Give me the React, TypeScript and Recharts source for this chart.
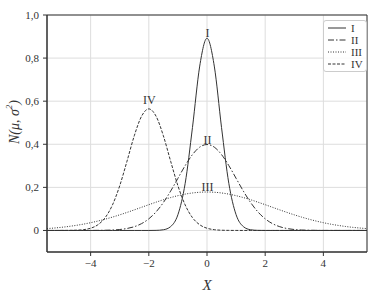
import React from "react";
import {
  LineChart,
  Line,
  XAxis,
  YAxis,
  CartesianGrid,
  ReferenceArea,
  ReferenceDot,
  Legend,
  Label,
} from "recharts";

// x grid, step 0.25 from -5.5 to 5.5
const xs: number[] = [
  -5.5, -5.25, -5, -4.75, -4.5, -4.25, -4, -3.75, -3.5, -3.25, -3, -2.75, -2.5,
  -2.25, -2, -1.75, -1.5, -1.25, -1, -0.75, -0.5, -0.25, 0, 0.25, 0.5, 0.75, 1,
  1.25, 1.5, 1.75, 2, 2.25, 2.5, 2.75, 3, 3.25, 3.5, 3.75, 4, 4.25, 4.5, 4.75,
  5, 5.25, 5.5,
];

const seriesI: number[] = [
  0, 0, 0, 0, 0, 0, 0, 0, 0, 0, 0, 0, 0, 0, 0, 0.0004, 0.0032, 0.0179, 0.0732,
  0.2187, 0.4775, 0.763, 0.8921, 0.763, 0.4775, 0.2187, 0.0732, 0.0179, 0.0032,
  0.0004, 0, 0, 0, 0, 0, 0, 0, 0, 0, 0, 0, 0, 0, 0, 0,
];

const seriesII: number[] = [
  0, 0, 0, 0, 0, 0, 0.0001, 0.0004, 0.0009, 0.002, 0.0044, 0.0091, 0.0175,
  0.0317, 0.054, 0.0863, 0.1295, 0.1826, 0.242, 0.3011, 0.3521, 0.3867, 0.3989,
  0.3867, 0.3521, 0.3011, 0.242, 0.1826, 0.1295, 0.0863, 0.054, 0.0317, 0.0175,
  0.0091, 0.0044, 0.002, 0.0009, 0.0004, 0.0001, 0, 0, 0, 0, 0, 0,
];

const seriesIII: number[] = [
  0.0087, 0.0113, 0.0146, 0.0187, 0.0236, 0.0293, 0.036, 0.0437, 0.0524, 0.062,
  0.0725, 0.0837, 0.0955, 0.1075, 0.1196, 0.1313, 0.1425, 0.1526, 0.1614,
  0.1686, 0.174, 0.1773, 0.1784, 0.1773, 0.174, 0.1686, 0.1614, 0.1526, 0.1425,
  0.1313, 0.1196, 0.1075, 0.0955, 0.0837, 0.0725, 0.062, 0.0524, 0.0437, 0.036,
  0.0293, 0.0236, 0.0187, 0.0146, 0.0113, 0.0087,
];

const seriesIV: number[] = [
  0, 0, 0.0001, 0.0003, 0.0011, 0.0036, 0.0103, 0.0264, 0.0595, 0.1183, 0.2076,
  0.3215, 0.4394, 0.53, 0.5642, 0.53, 0.4394, 0.3215, 0.2076, 0.1183, 0.0595,
  0.0264, 0.0103, 0.0036, 0.0011, 0.0003, 0.0001, 0, 0, 0, 0, 0, 0, 0, 0, 0, 0,
  0, 0, 0, 0, 0, 0, 0, 0,
];

const xTicks = [-4, -2, 0, 2, 4];
const yTicks = [0, 0.2, 0.4, 0.6, 0.8, 1.0];

const seriesNames = ["I", "II", "III", "IV"];
const seriesKeys = ["i", "ii", "iii", "iv"];
const dashes = ["", "6 2 1.5 2", "1 1.5", "3 1.5"];
// peak positions used for the curve labels
const peakX = [0, 0, 0, -2];
const peakY = [0.8921, 0.3989, 0.1784, 0.5642];

const data = xs.map((x, k) => ({
  x,
  i: seriesI[k],
  ii: seriesII[k],
  iii: seriesIII[k],
  iv: seriesIV[k],
}));

const FONT = "'Liberation Serif', 'DejaVu Serif', serif";
const INK = "#333";

const fmtY = (v: number) => (v === 0 ? "0" : v.toFixed(1).replace(".", ","));
const fmtX = (v: number) => (v < 0 ? `\u2212${Math.abs(v)}` : `${v}`);

const LegendBox = () => (
  <div
    style={{
      border: "1px solid #ccc",
      borderRadius: 3,
      background: "rgba(255,255,255,0.85)",
      padding: "1px 3px",
      fontFamily: FONT,
      fontSize: 11,
      color: INK,
      lineHeight: "12px",
    }}
  >
    {seriesNames.map((n, k) => (
      <div key={n} style={{ display: "flex", alignItems: "center", height: 12 }}>
        <svg width={20} height={12}>
          <line
            x1={1}
            x2={19}
            y1={6}
            y2={6}
            stroke={INK}
            strokeWidth={1}
            strokeDasharray={dashes[k] || undefined}
          />
        </svg>
        <span style={{ marginLeft: 4 }}>{n}</span>
      </div>
    ))}
  </div>
);

const YLabel = () => (
  <text
    x={14}
    y={122}
    transform="rotate(-90 14 122)"
    textAnchor="middle"
    dominantBaseline="central"
    fontFamily={FONT}
    fontStyle="italic"
    fontSize={14}
    fill={INK}
  >
    N(μ, σ<tspan dy={-5} fontSize={9}>2</tspan>
    <tspan dy={5}>)</tspan>
  </text>
);

const App: React.FC = () => {
  return (
    <div style={{ position: "absolute", left: 0, top: 0 }}>
      <LineChart
        width={380}
        height={292}
        data={data}
        margin={{ top: 15, right: 13, bottom: 0, left: 10 }}
      >
        <CartesianGrid stroke="#ddd" strokeWidth={1} />
        <XAxis
          dataKey="x"
          type="number"
          domain={[-5.5, 5.5]}
          ticks={xTicks}
          tickFormatter={fmtX}
          height={40}
          tickSize={4}
          tickMargin={3}
          stroke={INK}
          tick={{ fontFamily: FONT, fontSize: 11, fill: INK }}
          allowDataOverflow
        >
          <Label
            value="X"
            position="insideBottom"
            offset={2}
            style={{ fontFamily: FONT, fontStyle: "italic", fontSize: 15, fill: INK }}
          />
        </XAxis>
        <YAxis
          type="number"
          domain={[-0.1, 1.0]}
          ticks={yTicks}
          tickFormatter={fmtY}
          width={37}
          tickSize={4}
          tickMargin={4}
          stroke={INK}
          tick={{ fontFamily: FONT, fontSize: 11, fill: INK }}
          allowDataOverflow
          label={<YLabel />}
        />
        <ReferenceArea
          x1={-5.5}
          x2={5.5}
          y1={-0.1}
          y2={1.0}
          fill="none"
          stroke={INK}
          strokeWidth={1}
        />
        {seriesKeys.map((key, k) => (
          <Line
            key={key}
            dataKey={key}
            name={seriesNames[k]}
            type="monotone"
            stroke={INK}
            strokeWidth={1}
            strokeDasharray={dashes[k] || undefined}
            dot={false}
            activeDot={false}
            isAnimationActive={false}
          />
        ))}
        {seriesNames.map((n, k) => (
          <ReferenceDot
            key={n}
            x={peakX[k]}
            y={peakY[k]}
            r={0}
            stroke="none"
            label={
              <Label
                value={n}
                position="top"
                offset={k === 3 ? 5 : 1}
                fill={INK}
                fontFamily={FONT}
                fontSize={12}
                opacity={0.99}
                dx={0.5}
              />
            }
          />
        ))}
        <Legend
          layout="horizontal"
          align="center"
          verticalAlign="middle"
          content={<LegendBox />}
          wrapperStyle={{ top: 20, left: 323, width: "auto" }}
        />
      </LineChart>
    </div>
  );
};

export default App;
